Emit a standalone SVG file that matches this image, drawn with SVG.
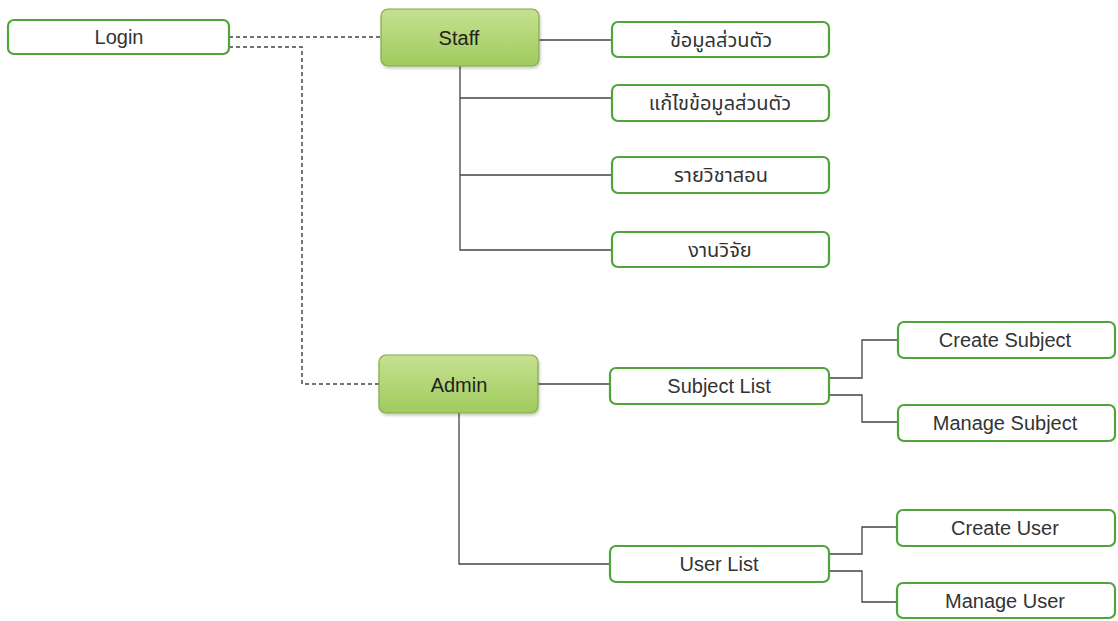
<svg xmlns="http://www.w3.org/2000/svg" width="1118" height="621" viewBox="0 0 1118 621">
<defs>
<linearGradient id="g" x1="0" y1="0" x2="0" y2="1">
<stop offset="0" stop-color="#c6e190"/>
<stop offset="1" stop-color="#9fcb5e"/>
</linearGradient>
<filter id="sh" x="-10%" y="-10%" width="130%" height="140%">
<feDropShadow dx="1" dy="2" stdDeviation="1.5" flood-color="#000" flood-opacity="0.22"/>
</filter>
</defs>
<style>
.w{fill:#fff;stroke:#4fa53a;stroke-width:2.2}
.gr{fill:url(#g);stroke:#84a848;stroke-width:1.2;filter:url(#sh)}
text{font-family:"Liberation Sans","Noto Sans Thai","Noto Sans",sans-serif;font-size:20px;fill:#333;text-anchor:middle;dominant-baseline:central}
.b{fill:#222}
.c{fill:none;stroke:#444;stroke-width:1.3}
.d{fill:none;stroke:#444;stroke-width:1.5;stroke-dasharray:4 3}
</style>
<rect width="1118" height="621" fill="#fff"/>
<g id="connectors">
<path class="d" d="M229 37H381"/>
<path class="d" d="M229 47H302V384H379"/>
<path class="c" d="M539 40H611"/>
<path class="c" d="M460 66V250H611M460 98H611M460 175H611"/>
<path class="c" d="M538 384H610"/>
<path class="c" d="M459 413V564H610"/>
<path class="c" d="M829 378H862V340H898M829 395H862V422H898"/>
<path class="c" d="M829 554H862V527H897M829 571H862V602H897"/>
</g>
<g id="login"><rect class="w" x="8" y="20" width="221" height="34" rx="6"/><text x="119" y="37">Login</text></g>
<g id="staff"><rect class="gr" x="381" y="9" width="158" height="57" rx="7"/><text class="b" x="459" y="38">Staff</text></g>
<g id="personal"><rect class="w" x="612" y="22" width="217" height="35" rx="6"/><text x="721" y="40">ข้อมูลส่วนตัว</text></g>
<g id="edit-personal"><rect class="w" x="612" y="85" width="217" height="36" rx="6"/><text x="720" y="103">แก้ไขข้อมูลส่วนตัว</text></g>
<g id="courses"><rect class="w" x="612" y="157" width="217" height="36" rx="6"/><text x="721" y="175">รายวิชาสอน</text></g>
<g id="research"><rect class="w" x="612" y="232" width="217" height="35" rx="6"/><text x="720" y="250">งานวิจัย</text></g>
<g id="admin"><rect class="gr" x="379" y="355" width="159" height="58" rx="7"/><text class="b" x="459" y="385">Admin</text></g>
<g id="subject-list"><rect class="w" x="610" y="368" width="219" height="36" rx="6"/><text x="719" y="386">Subject List</text></g>
<g id="create-subject"><rect class="w" x="898" y="322" width="217" height="36" rx="6"/><text x="1005" y="340">Create Subject</text></g>
<g id="manage-subject"><rect class="w" x="898" y="405" width="217" height="36" rx="6"/><text x="1005" y="423">Manage Subject</text></g>
<g id="user-list"><rect class="w" x="610" y="546" width="219" height="36" rx="6"/><text x="719" y="564">User List</text></g>
<g id="create-user"><rect class="w" x="897" y="510" width="218" height="36" rx="6"/><text x="1005" y="528">Create User</text></g>
<g id="manage-user"><rect class="w" x="897" y="583" width="218" height="35" rx="6"/><text x="1005" y="601">Manage User</text></g>
</svg>
